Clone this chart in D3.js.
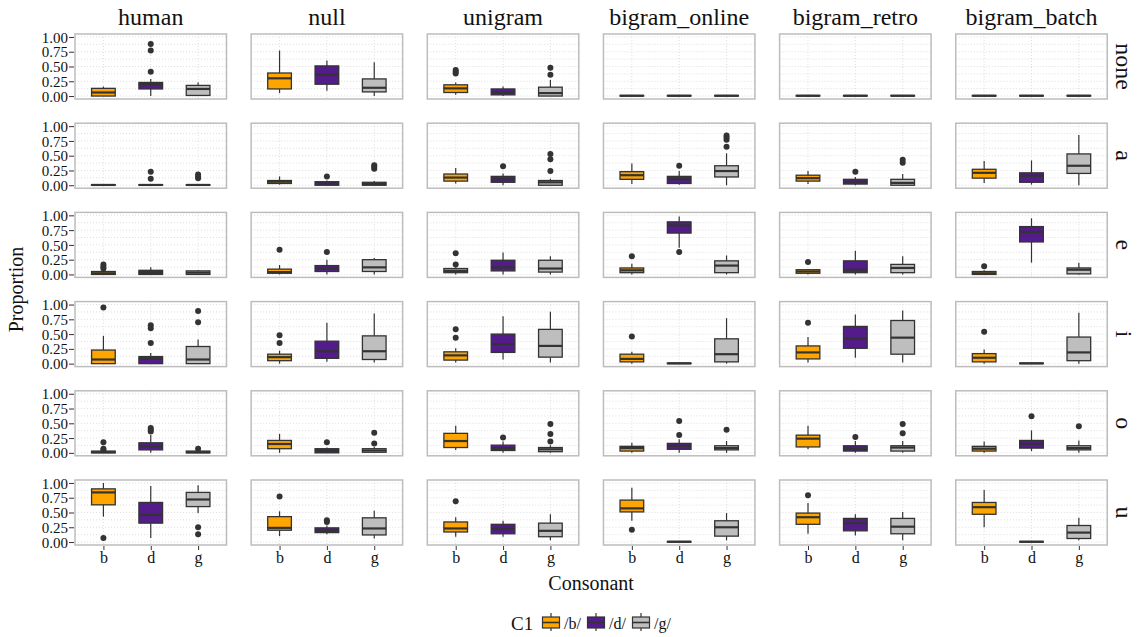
<!DOCTYPE html>
<html>
<head>
<meta charset="utf-8">
<script src="https://cdn.jsdelivr.net/npm/d3@7"></script>
<style>
  body { margin: 0; background: #fff; }
  svg text { font-family: "Liberation Serif", "Times New Roman", "DejaVu Serif", serif; fill: #111; }
</style>
</head>
<body>
<div id="chart"></div>
<script>
// facets
const models = ["human", "null", "unigram", "bigram_online", "bigram_retro", "bigram_batch"];
const vowels = ["none", "a", "e", "i", "o", "u"];
const consonants = ["b", "d", "g"];
const legendLabels = ["/b/", "/d/", "/g/"];
const yTicks = [0, 0.25, 0.5, 0.75, 1];

// box stats per model: vowel -> [b, d, g], each [low, q1, median, q3, high, outliers]
const human = {
  none: [[0, 0, 0.06, 0.13, 0.16, []], [0, 0.12, 0.2, 0.23, 0.29, [0.41, 0.77, 0.88]], [0, 0.01, 0.12, 0.18, 0.23, []]],
  a: [[0, 0, 0.005, 0.01, 0.01, []], [0, 0, 0.005, 0.01, 0.02, [0.11, 0.23]], [0, 0, 0.005, 0.01, 0.02, [0.12, 0.15, 0.18]]],
  e: [[0, 0, 0.02, 0.05, 0.06, [0.1, 0.13, 0.17]], [0, 0, 0.03, 0.07, 0.12, []], [0, 0, 0.03, 0.06, 0.07, []]],
  i: [[0, 0, 0.07, 0.23, 0.47, [0.95]], [0, 0, 0.08, 0.12, 0.18, [0.35, 0.6, 0.65]], [0, 0, 0.07, 0.29, 0.41, [0.7, 0.89]]],
  o: [[0, 0, 0.01, 0.03, 0.04, [0.05, 0.07, 0.18]], [0, 0.05, 0.11, 0.17, 0.3, [0.36, 0.39, 0.42]], [0, 0, 0.01, 0.03, 0.04, [0.07]]],
  u: [[0.43, 0.63, 0.84, 0.9, 1.0, [0.07]], [0.07, 0.32, 0.46, 0.67, 0.95, []], [0.49, 0.6, 0.72, 0.84, 0.96, [0.13, 0.25]]]
};
const nullModel = {
  none: [[0.05, 0.12, 0.3, 0.39, 0.77, []], [0.09, 0.2, 0.36, 0.51, 0.6, []], [0, 0.07, 0.14, 0.29, 0.57, []]],
  a: [[0.01, 0.03, 0.06, 0.08, 0.15, []], [0, 0, 0.03, 0.06, 0.08, [0.15]], [0, 0, 0.02, 0.05, 0.07, [0.28, 0.31, 0.34]]],
  e: [[0, 0.02, 0.04, 0.09, 0.16, [0.42]], [0, 0.05, 0.1, 0.15, 0.25, [0.38]], [0, 0.05, 0.12, 0.25, 0.28, []]],
  i: [[0, 0.05, 0.11, 0.16, 0.22, [0.35, 0.48]], [0.03, 0.09, 0.21, 0.38, 0.69, []], [0.02, 0.07, 0.21, 0.47, 0.85, []]],
  o: [[0, 0.07, 0.15, 0.21, 0.32, []], [0, 0, 0.03, 0.07, 0.09, [0.18]], [0, 0.01, 0.04, 0.07, 0.1, [0.16, 0.34]]],
  u: [[0.1, 0.2, 0.24, 0.43, 0.52, [0.77]], [0.13, 0.16, 0.2, 0.24, 0.28, [0.34, 0.37]], [0.06, 0.12, 0.23, 0.41, 0.53, []]]
};
const unigram = {
  none: [[0.02, 0.06, 0.13, 0.19, 0.23, [0.38, 0.41, 0.44]], [0, 0.02, 0.06, 0.12, 0.16, []], [0, 0, 0.05, 0.15, 0.27, [0.36, 0.48]]],
  a: [[0.03, 0.07, 0.13, 0.19, 0.29, []], [0, 0.05, 0.1, 0.15, 0.2, [0.32]], [0, 0, 0.05, 0.08, 0.11, [0.24, 0.44, 0.53]]],
  e: [[0, 0.03, 0.06, 0.1, 0.12, [0.17, 0.36]], [0, 0.06, 0.12, 0.24, 0.37, []], [0, 0.04, 0.1, 0.24, 0.31, []]],
  i: [[0.02, 0.06, 0.14, 0.2, 0.26, [0.44, 0.58]], [0.07, 0.19, 0.33, 0.5, 0.8, []], [0.02, 0.11, 0.3, 0.58, 0.88, []]],
  o: [[0.05, 0.09, 0.2, 0.33, 0.46, []], [0, 0.04, 0.08, 0.13, 0.19, [0.26]], [0, 0.02, 0.06, 0.09, 0.13, [0.19, 0.32, 0.49]]],
  u: [[0.09, 0.17, 0.23, 0.34, 0.42, [0.69]], [0.09, 0.14, 0.22, 0.3, 0.36, []], [0.03, 0.09, 0.19, 0.32, 0.47, []]]
};
const bigramOnline = {
  none: [[0, 0, 0.005, 0.01, 0.01, []], [0, 0, 0.005, 0.01, 0.01, []], [0, 0, 0.005, 0.01, 0.01, []]],
  a: [[0.02, 0.1, 0.17, 0.23, 0.37, []], [0.01, 0.03, 0.1, 0.15, 0.24, [0.33]], [0, 0.14, 0.24, 0.33, 0.54, [0.65, 0.77, 0.81, 0.84]]],
  e: [[0, 0.03, 0.07, 0.11, 0.18, [0.31]], [0.45, 0.7, 0.83, 0.89, 0.98, [0.38]], [0, 0.03, 0.15, 0.23, 0.32, []]],
  i: [[0, 0.03, 0.08, 0.16, 0.2, [0.46]], [0, 0, 0.005, 0.01, 0.01, []], [0, 0.03, 0.16, 0.42, 0.77, []]],
  o: [[0, 0.03, 0.08, 0.11, 0.17, []], [0, 0.06, 0.12, 0.16, 0.23, [0.3, 0.54]], [0, 0.05, 0.08, 0.12, 0.2, [0.39]]],
  u: [[0.36, 0.51, 0.57, 0.71, 0.92, [0.21]], [0, 0, 0.005, 0.01, 0.01, []], [0.03, 0.1, 0.25, 0.36, 0.49, []]]
};
const bigramRetro = {
  none: [[0, 0, 0.005, 0.01, 0.01, []], [0, 0, 0.005, 0.01, 0.01, []], [0, 0, 0.005, 0.01, 0.01, []]],
  a: [[0.02, 0.07, 0.12, 0.17, 0.24, []], [0, 0.02, 0.06, 0.1, 0.14, [0.23]], [0, 0, 0.04, 0.1, 0.19, [0.38, 0.43]]],
  e: [[0, 0.02, 0.05, 0.08, 0.09, [0.21]], [0, 0.03, 0.08, 0.23, 0.4, []], [0, 0.03, 0.11, 0.17, 0.31, []]],
  i: [[0.02, 0.08, 0.19, 0.3, 0.45, [0.69]], [0.1, 0.26, 0.42, 0.63, 0.83, []], [0.02, 0.16, 0.44, 0.73, 0.9, []]],
  o: [[0.06, 0.1, 0.24, 0.3, 0.46, []], [0, 0.03, 0.07, 0.12, 0.2, [0.27]], [0, 0.03, 0.09, 0.12, 0.2, [0.33, 0.49]]],
  u: [[0.14, 0.3, 0.42, 0.49, 0.66, [0.79]], [0.11, 0.19, 0.32, 0.4, 0.47, []], [0.03, 0.14, 0.26, 0.4, 0.51, []]]
};
const bigramBatch = {
  none: [[0, 0, 0.005, 0.01, 0.01, []], [0, 0, 0.005, 0.01, 0.01, []], [0, 0, 0.005, 0.01, 0.01, []]],
  a: [[0.04, 0.12, 0.21, 0.27, 0.41, []], [0.01, 0.05, 0.16, 0.21, 0.42, []], [0, 0.2, 0.33, 0.53, 0.85, []]],
  e: [[0, 0, 0.02, 0.05, 0.07, [0.14]], [0.2, 0.55, 0.72, 0.81, 0.95, []], [0, 0.01, 0.08, 0.11, 0.2, []]],
  i: [[0, 0.03, 0.1, 0.17, 0.24, [0.54]], [0, 0, 0.005, 0.01, 0.01, []], [0, 0.05, 0.19, 0.45, 0.86, []]],
  o: [[0, 0.03, 0.07, 0.11, 0.19, []], [0.03, 0.08, 0.15, 0.21, 0.38, [0.62]], [0, 0.05, 0.08, 0.12, 0.21, [0.45]]],
  u: [[0.25, 0.47, 0.59, 0.67, 0.88, []], [0, 0, 0.005, 0.01, 0.01, []], [0.03, 0.06, 0.16, 0.28, 0.41, []]]
};
const statsByModel = [human, nullModel, unigram, bigramOnline, bigramRetro, bigramBatch];

const fills = ["#FFA500", "#531C8A", "#BEBEBE"];
const W = 1137, H = 637;
const panelW = 151.5, panelH = 65;
const ink = "#333333";

const svg = d3.select("#chart").append("svg")
  .attr("width", W).attr("height", H)
  .attr("viewBox", [0, 0, W, H]);

const colX = d3.scaleLinear().domain([0, 1]).range([75, 75 + 176.15]);
const rowY = d3.scaleLinear().domain([0, 1]).range([34, 34 + 89.2]);
// ggplot discrete expansion: 0.6 units each side over 3 categories
const x = d3.scalePoint().domain(consonants)
  .range([panelW * 0.6 / 3.2, panelW * 2.6 / 3.2]).padding(0);
const y = d3.scaleLinear().domain([-0.05, 1.05]).range([panelH, 0]);
const boxW = panelW / 3.2 * 0.5;
const colorOf = d3.scaleOrdinal().domain(consonants).range(fills);

// column strip labels
svg.append("g").selectAll("text").data(models).join("text")
  .attr("x", (d, i) => colX(i) + panelW / 2)
  .attr("y", 25)
  .attr("text-anchor", "middle")
  .attr("font-size", 24)
  .text(d => d);

// row strip labels
svg.append("g").selectAll("text").data(vowels).join("text")
  .attr("transform", (d, j) => `translate(1116,${rowY(j) + panelH / 2}) rotate(90)`)
  .attr("text-anchor", "middle")
  .attr("font-size", 24)
  .text(d => d);

vowels.forEach((v, j) => {
  models.forEach((m, i) => {
    const g = svg.append("g").attr("transform", `translate(${colX(i)},${rowY(j)})`);

    // grid (major + minor, dotted)
    const gridY = d3.range(0, 1.01, 0.125);
    g.append("g").selectAll("line").data(gridY).join("line")
      .attr("x1", 0).attr("x2", panelW)
      .attr("y1", d => y(d)).attr("y2", d => y(d))
      .attr("stroke", "#d6d6d6").attr("stroke-width", 0.8)
      .attr("stroke-dasharray", "1,2");
    g.append("g").selectAll("line").data(consonants).join("line")
      .attr("x1", d => x(d)).attr("x2", d => x(d))
      .attr("y1", 0).attr("y2", panelH)
      .attr("stroke", "#d6d6d6").attr("stroke-width", 0.8)
      .attr("stroke-dasharray", "1,2");

    const rows = statsByModel[i][v].map((s, k) => ({
      c: consonants[k], lo: s[0], q1: s[1], med: s[2], q3: s[3], hi: s[4], out: s[5]
    }));

    const boxes = g.append("g").selectAll("g").data(rows).join("g")
      .attr("transform", d => `translate(${x(d.c)},0)`);

    boxes.append("line")
      .attr("y1", d => y(d.hi)).attr("y2", d => y(d.q3))
      .attr("stroke", ink).attr("stroke-width", 1.2);
    boxes.append("line")
      .attr("y1", d => y(d.q1)).attr("y2", d => y(d.lo))
      .attr("stroke", ink).attr("stroke-width", 1.2);
    boxes.append("rect")
      .attr("x", -boxW / 2).attr("width", boxW)
      .attr("y", d => y(d.q3))
      .attr("height", d => Math.max(0, y(d.q1) - y(d.q3)))
      .attr("fill", d => colorOf(d.c))
      .attr("stroke", ink).attr("stroke-width", 1.3);
    boxes.append("line")
      .attr("x1", -boxW / 2).attr("x2", boxW / 2)
      .attr("y1", d => y(d.med)).attr("y2", d => y(d.med))
      .attr("stroke", ink).attr("stroke-width", 2.2);
    boxes.selectAll("circle").data(d => d.out).join("circle")
      .attr("cx", 0).attr("cy", d => y(d)).attr("r", 3)
      .attr("fill", ink);

    // panel border
    g.append("rect")
      .attr("width", panelW).attr("height", panelH)
      .attr("fill", "none").attr("stroke", "#bdbdbd").attr("stroke-width", 1.5);

    // y axis on first column
    if (i === 0) {
      const ax = g.append("g")
        .call(d3.axisLeft(y).tickValues(yTicks).tickFormat(d3.format(".2f")).tickSizeOuter(0).tickSize(5).tickPadding(2));
      ax.select(".domain").remove();
      ax.selectAll("line").attr("stroke", ink).attr("transform", "translate(-1,0)");
      ax.selectAll("text").attr("font-size", 15).attr("fill", "#111")
        .attr("font-family", "Liberation Serif").attr("dy", "0.34em");
    }
    // x axis on last row
    if (j === vowels.length - 1) {
      const ax = g.append("g").attr("transform", `translate(0,${panelH})`)
        .call(d3.axisBottom(x).tickSize(4).tickPadding(3));
      ax.select(".domain").remove();
      ax.selectAll("line").attr("stroke", ink).attr("transform", "translate(0,1)");
      ax.selectAll("text").attr("font-size", 16).attr("fill", "#111")
        .attr("font-family", "Liberation Serif");
    }
  });
});

// axis titles
svg.append("text")
  .attr("x", colX(0) + (colX(5) + panelW - colX(0)) / 2).attr("y", 590)
  .attr("text-anchor", "middle").attr("font-size", 20)
  .text("Consonant");
svg.append("text")
  .attr("transform", `translate(23,${rowY(0) + (rowY(5) + panelH - rowY(0)) / 2}) rotate(-90)`)
  .attr("text-anchor", "middle").attr("font-size", 20)
  .text("Proportion");

// legend
const legend = svg.append("g");
legend.append("text").attr("x", 511).attr("y", 630).attr("font-size", 19).text("C1");
const keys = legend.selectAll("g.key").data(consonants).join("g")
  .attr("class", "key")
  .attr("transform", (d, k) => `translate(${542 + 45 * k},613)`);
keys.append("line").attr("x1", 9).attr("x2", 9).attr("y1", 0).attr("y2", 18)
  .attr("stroke", ink).attr("stroke-width", 1.2);
keys.append("rect").attr("x", 0.5).attr("y", 4).attr("width", 17).attr("height", 11)
  .attr("fill", d => colorOf(d)).attr("stroke", ink).attr("stroke-width", 1.2);
keys.append("line").attr("x1", 0.5).attr("x2", 17.5).attr("y1", 9.5).attr("y2", 9.5)
  .attr("stroke", ink).attr("stroke-width", 1.6);
keys.append("text").attr("x", 22).attr("y", 16).attr("font-size", 16)
  .text((d, k) => legendLabels[k]);
</script>
</body>
</html>
